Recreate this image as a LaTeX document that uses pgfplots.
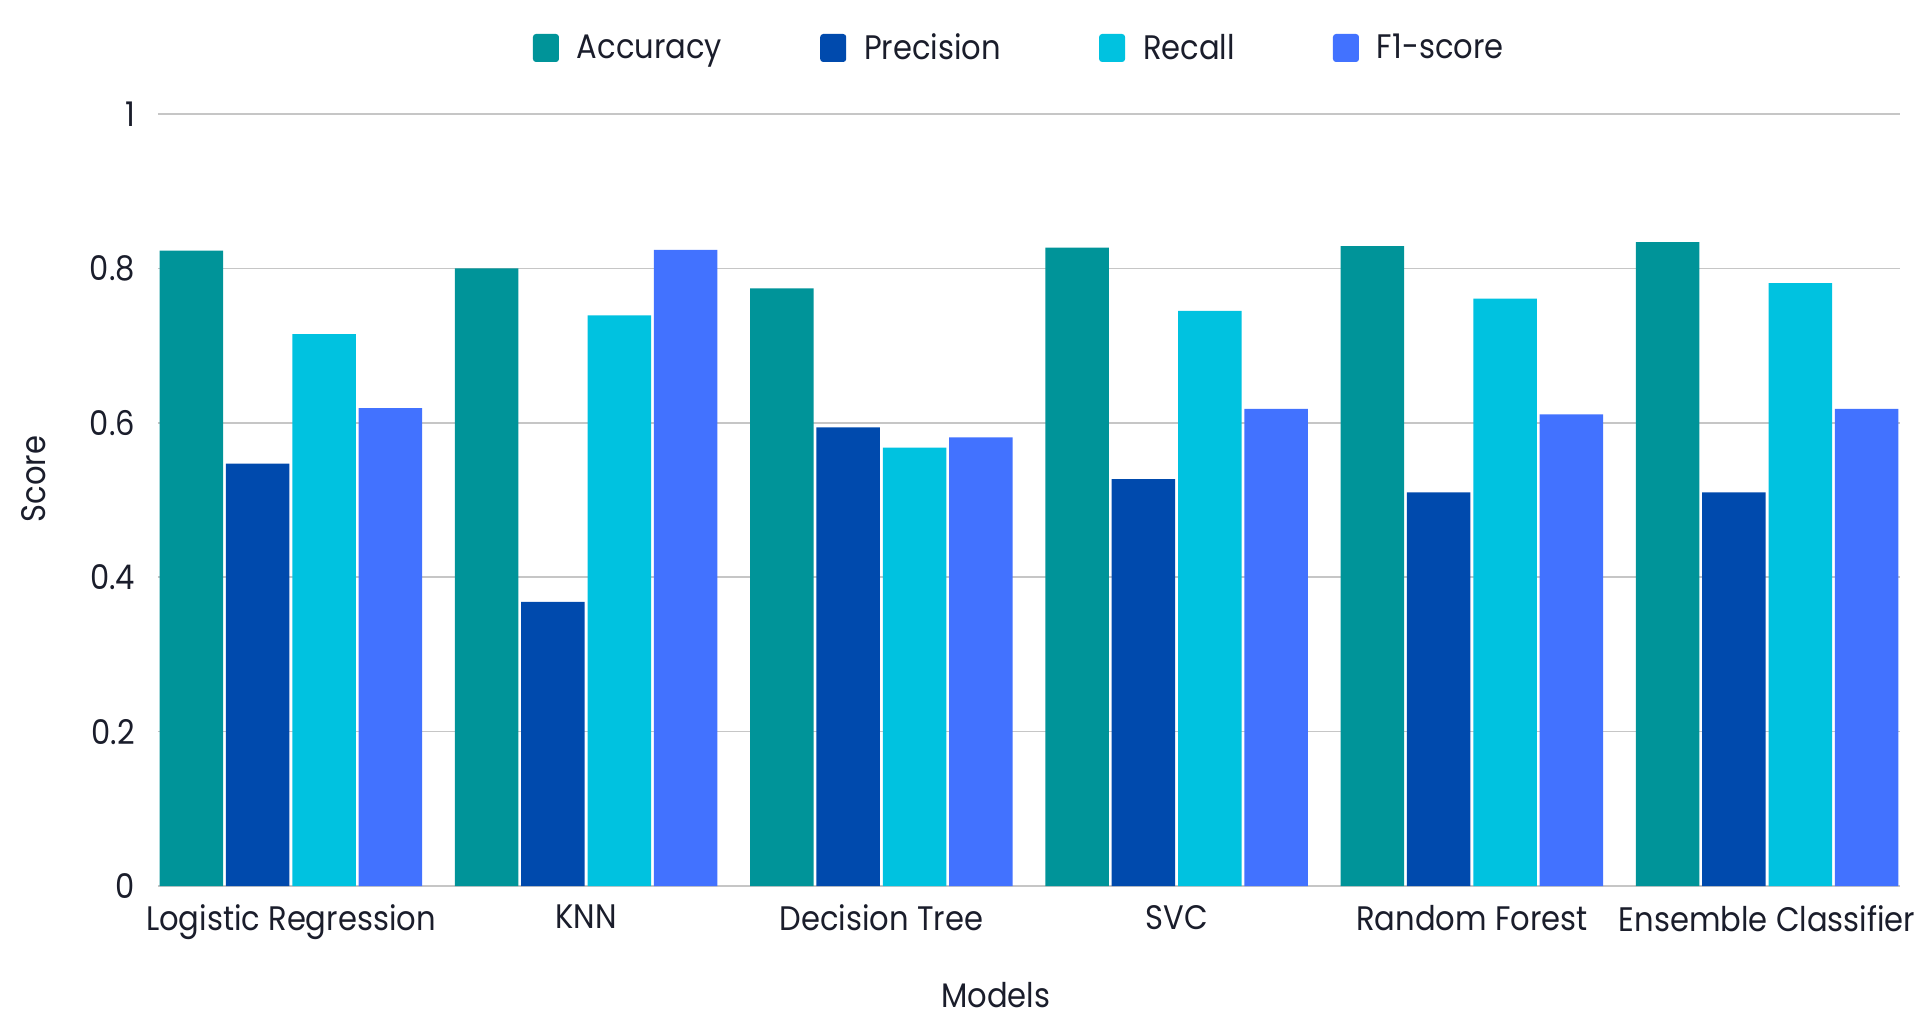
\documentclass[border=0pt]{standalone}
\usepackage{pgfplots}
\pgfplotsset{compat=1.18}
\usepackage{fontspec}
\setmainfont{Poppins}[FakeStretch=0.9]
\definecolor{cAcc}{HTML}{009499}
\definecolor{cPrec}{HTML}{004AAD}
\definecolor{cRec}{HTML}{00C2E0}
\definecolor{cF1}{HTML}{4272FF}
\definecolor{txt}{HTML}{1A1D2B}
\begin{document}
\begin{tikzpicture}
\useasboundingbox (-79pt,-72pt) rectangle (885.5pt,443pt);
\begin{axis}[
    at={(0,0)}, anchor=south west,
    scale only axis,
    width=871pt, height=386pt,
    ybar=0pt,
    bar width=0.215,
    xmin=-0.45, xmax=5.45,
    ymin=0, ymax=1,
    xtick={0,1,2,3,4,5},
    xticklabels={Logistic Regression, KNN, Decision Tree, SVC, Random Forest, Ensemble Classifier},
    ytick={0,0.2,0.4,0.6,0.8,1},
    yticklabels={0,0.2,0.4,0.6,0.8,1},
    major tick length=0pt,
    axis line style={draw=none},
    ymajorgrids=true,
    grid style={draw=gray!45, line width=0.8pt},
    font=\fontsize{17}{20}\selectfont,
    every tick label/.append style={text=txt},
    xticklabel style={yshift=-6pt},
    yticklabel style={xshift=-8pt},
    ylabel={Score},
    xlabel={Models},
    label style={text=txt},
    ylabel style={at={(axis description cs:-0.0712,0.527)}, anchor=center},
    xlabel style={at={(axis description cs:0.481,0)}, anchor=center, yshift=-54.5pt},
    legend columns=4,
    legend style={at={(0.495,1.0855)}, anchor=center, draw=none, fill=none,
        font=\fontsize{17}{20}\selectfont, text=txt,
        /tikz/every odd column/.append style={column sep=7pt},
        /tikz/every even column/.append style={column sep=47pt}},
    legend image code/.code={\fill[#1, rounded corners=1.5pt] (0pt,-7pt) rectangle (13pt,7pt);},
]
\addplot[fill=cAcc, draw=none, bar shift=-0.3368] coordinates {(0,0.823) (1,0.800) (2,0.774) (3,0.827) (4,0.829) (5,0.834)};
\addplot[fill=cPrec, draw=none, bar shift=-0.1123] coordinates {(0,0.547) (1,0.368) (2,0.594) (3,0.527) (4,0.510) (5,0.510)};
\addplot[fill=cRec, draw=none, bar shift=0.1123] coordinates {(0,0.715) (1,0.739) (2,0.568) (3,0.745) (4,0.761) (5,0.781)};
\addplot[fill=cF1, draw=none, bar shift=0.3368] coordinates {(0,0.619) (1,0.824) (2,0.581) (3,0.618) (4,0.611) (5,0.618)};
\legend{Accuracy, Precision, Recall, F1-score}
\end{axis}
\end{tikzpicture}
\end{document}
